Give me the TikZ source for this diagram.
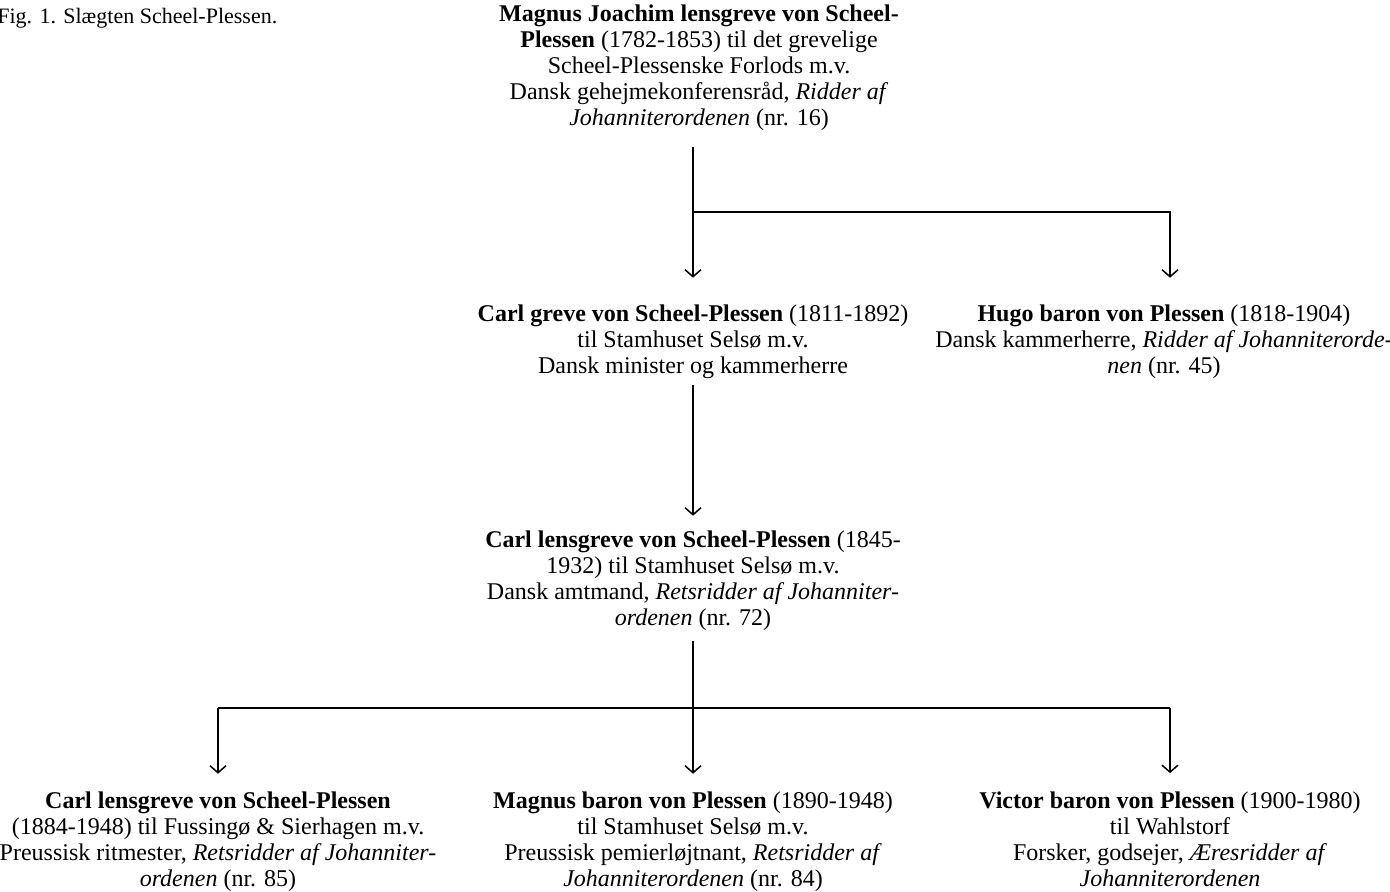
\documentclass[tikz,border=0pt]{standalone}
\usepackage{fontspec}
\setmainfont{Liberation Serif}
\usepackage{tikz}
\usetikzlibrary{arrows.meta,positioning,calc}

\begin{document}
\begin{tikzpicture}[x=0.5pt,y=-0.5pt,
    person/.style={align=center,inner sep=0pt,font=\fontsize{12}{13}\selectfont},
    figcap/.style={inner sep=0pt,font=\fontsize{11}{12}\selectfont},
    arr/.style={line width=0.75pt,-{Straight Barb[length=3.5pt,width=8pt]}},
    ln/.style={line width=0.75pt}]
    \useasboundingbox (0,0) rectangle (1390,892);
    % Caption
    \node[figcap, anchor=base west] (fig) at (-3,24) {Fig. 1. Slægten Scheel-Plessen.};

    % Top: Magnus Joachim
    \node[person] (M0) at (699,68) {\textbf{Magnus Joachim lensgreve von Scheel-}\\
      \textbf{Plessen} (1782-1853) til det grevelige\\
      Scheel-Plessenske Forlods m.v.\\
      Dansk gehejmekonferensråd, \textit{Ridder af}\\
      \textit{Johanniterordenen} (nr. 16)};

    % Middle row
    \node[person] (C1) at (693,342) {\textbf{Carl greve von Scheel-Plessen} (1811-1892)\\
      til Stamhuset Selsø m.v.\\
      Dansk minister og kammerherre};
    \node[person] (H1) at (1164,342) {\textbf{Hugo baron von Plessen} (1818-1904)\\
      Dansk kammerherre, \textit{Ridder af Johanniterorde-}\\
      \textit{nen} (nr. 45)};

    % Carl lensgreve
    \node[person] (C2) at (693,581) {\textbf{Carl lensgreve von Scheel-Plessen} (1845-\\
      1932) til Stamhuset Selsø m.v.\\
      Dansk amtmand, \textit{Retsridder af Johanniter-}\\
      \textit{ordenen} (nr. 72)};

    % Bottom row
    \node[person] (C3) at (218,842) {\textbf{Carl lensgreve von Scheel-Plessen}\\
      (1884-1948) til Fussingø \& Sierhagen m.v.\\
      Preussisk ritmester, \textit{Retsridder af Johanniter-}\\
      \textit{ordenen} (nr. 85)};
    \node[person] (M3) at (693,842) {\textbf{Magnus baron von Plessen} (1890-1948)\\
      til Stamhuset Selsø m.v.\\
      Preussisk pemierløjtnant, \textit{Retsridder af}\\
      \textit{Johanniterordenen} (nr. 84)};
    \node[person] (V3) at (1170,839) {\textbf{Victor baron von Plessen} (1900-1980)\\
      til Wahlstorf\\
      Forsker, godsejer, \textit{Æresridder af}\\
      \textit{Johanniterordenen}};

    % junctions
    \coordinate (j1) at (693,212);
    \coordinate (j2) at (693,708);

    % connectors
    \draw[arr, shorten <=8pt, shorten >=13.5pt] (M0.south -| j1) -- (C1.north -| j1);
    \draw[arr, shorten >=13.5pt] (j1) -| (H1.north -| V3.north);
    \draw[arr, shorten <=3pt, shorten >=7.5pt] (C1.south) -- (C2.north);
    \draw[arr, shorten <=5pt, shorten >=9pt] (C2.south) -- (M3.north);
    \draw[ln] (C3.north |- j2) -- (V3.north |- j2);
    \draw[arr, shorten >=9pt] (j2 -| C3.north) -- (C3.north);
    \draw[arr, shorten >=9pt] (j2 -| V3.north) -- (V3.north);
\end{tikzpicture}
\end{document}
